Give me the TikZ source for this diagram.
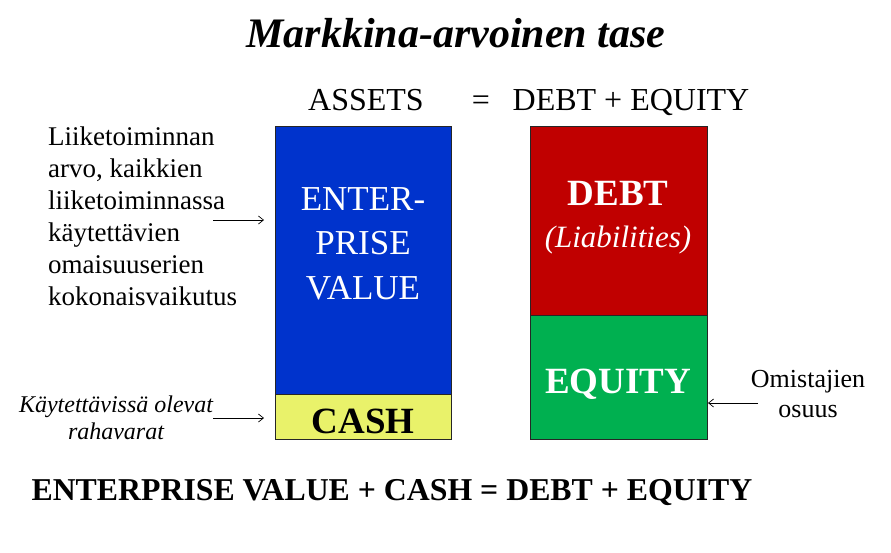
\documentclass[tikz,border=0pt]{standalone}
\usepackage{fontspec}
\setmainfont{Liberation Serif}
\usetikzlibrary{arrows.meta}
\definecolor{evblue}{RGB}{0,51,204}
\definecolor{debtred}{RGB}{192,0,0}
\definecolor{eqgreen}{RGB}{0,176,80}
\definecolor{cashyellow}{RGB}{233,242,106}
\begin{document}
\begin{tikzpicture}[x=1pt,y=-1pt,
  blk/.style={draw=black!85, line width=1pt},
  lbl/.style={inner sep=0pt, anchor=base, align=center},
  arr/.style={-{Straight Barb[length=5pt,width=8pt]}, line width=0.7pt}]
\useasboundingbox[fill=white] (0,0) rectangle (891,552);
% boxes
\path[blk, fill=evblue] (275,126) rectangle (451,394);
\path[blk, fill=cashyellow] (275,394) rectangle (451,439);
\path[blk, fill=debtred] (530,126) rectangle (707,315);
\path[blk, fill=eqgreen] (530,315) rectangle (707,439);
\coordinate (evL) at (264,220);
\coordinate (cashL) at (264,418);
\coordinate (eqR) at (708,403);
% title
\node[lbl, font=\fontsize{42}{48}\selectfont\bfseries\itshape] (title) at (456,47) {Markkina-arvoinen tase};
\node[lbl, font=\fontsize{32}{36}\selectfont] (assets) at (366,110) {ASSETS};
\node[lbl, font=\fontsize{32}{36}\selectfont] (eq) at (481,110) {=};
\node[lbl, font=\fontsize{32}{36}\selectfont] (de) at (631,110) {DEBT + EQUITY};
% box texts
\node[lbl, font=\fontsize{35}{44.5}\selectfont, text=white, anchor=north] (evtext) at (363,187) {ENTER-\\PRISE\\VALUE};
\node[lbl, font=\fontsize{37}{44}\selectfont\bfseries] (cash) at (363,433) {CASH};
\node[lbl, font=\fontsize{37}{44}\selectfont\bfseries, text=white] (debt) at (618,205) {DEBT};
\node[lbl, font=\fontsize{31}{36}\selectfont\itshape, text=white] (liab) at (618,247) {(Liabilities)};
\node[lbl, font=\fontsize{37}{44}\selectfont\bfseries, text=white] (equity) at (618,393) {EQUITY};
% left texts
\node[inner sep=0pt, anchor=north west, align=left, font=\fontsize{27}{32}\selectfont] (ltext) at (48,127) {Liiketoiminnan\\arvo, kaikkien\\liiketoiminnassa\\käytettävien\\omaisuuserien\\kokonaisvaikutus};
\node[inner sep=0pt, anchor=north, align=center, font=\fontsize{24}{27}\selectfont\itshape] (ctext) at (116,396) {Käytettävissä olevat\\rahavarat};
\node[inner sep=0pt, anchor=north, align=center, font=\fontsize{26}{30}\selectfont] (otext) at (808,370) {Omistajien\\osuus};
% arrows
\coordinate (a1) at (213,220);
\coordinate (a2) at (213,418);
\coordinate (a3) at (758,403);
\draw[arr] (a1) -- (evL);
\draw[arr] (a2) -- (cashL);
\draw[arr] (a3) -- (eqR);
% bottom equation
\node[lbl, font=\fontsize{31.8}{36}\selectfont\bfseries] (bottom) at (392,500) {ENTERPRISE VALUE + CASH = DEBT + EQUITY};
\end{tikzpicture}
\end{document}
